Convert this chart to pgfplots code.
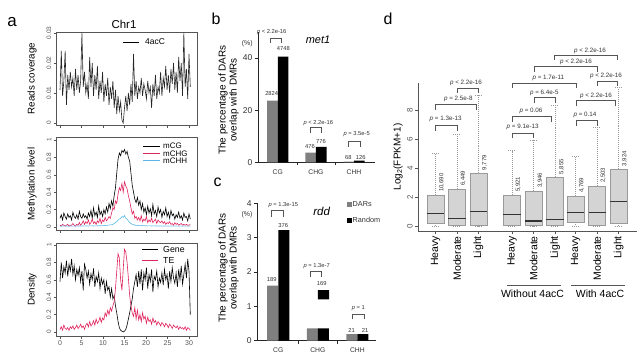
\documentclass[border=0pt]{standalone}
\usepackage{pgfplots}
\pgfplotsset{compat=1.18}
\usepgfplotslibrary{statistics}
\usepackage{pgfplotstable}
\usepackage{fontspec}
\setmainfont{Liberation Sans}
\definecolor{crim}{HTML}{E0245E}
\definecolor{skyb}{HTML}{5BB8E6}
\definecolor{barg}{HTML}{7F7F7F}
\definecolor{boxf}{HTML}{D4D4D4}
\definecolor{boxd}{HTML}{9A9A9A}
\definecolor{axg}{HTML}{555555}
\definecolor{txt}{HTML}{333333}
\newcommand{\fs}[1]{\fontsize{#1}{#1}\selectfont}
\newcommand{\brk}[4]{\draw[axg, line width=0.5pt] (#1bp,-#4bp) |- (#2bp,-#3bp) -- (#2bp,-#4bp);}
\tikzset{t/.style={inner sep=0pt, text=txt}}
\pgfplotsset{/pgf/number format/assume math mode=true}
\pgfplotsset{
astyle/.style={scale only axis, width=141bp, height=93bp, anchor=south west,
 xmin=-0.93, xmax=31.86, axis line style={axg, line width=0.6pt},
 tick align=outside, xtick pos=left, ytick pos=left, major tick length=2.5bp,
 tick style={axg, line width=0.5pt}, xtick={0,5,...,30}, scaled y ticks=false,
 yticklabel style={rotate=90, anchor=south, font=\fs{6.5}, text=axg, inner sep=2pt},
 xticklabel style={font=\fs{7}, text=axg, inner sep=2pt}},
bstyle/.style={scale only axis, anchor=south west, axis lines=left,
 axis line style={-, black!85, line width=0.7pt}, tick align=outside,
 major tick length=3.5bp, minor tick length=3bp, tick style={black!85, line width=0.6pt},
 xtick={0,1,2}, xticklabels={CG,CHG,CHH}, minor xtick={0.5,1.5},
 major x tick style={draw=none},
 xticklabel style={font=\fs{6.8}, text=txt},
 yticklabel style={font=\fs{8.5}, text=txt, inner sep=2pt}, clip=false}
}
\pgfplotstableread{
x cov cg chg chh gene te
0.0 0.011 0.10 0.02 0.010 0.58 0.03
0.3 0.024 0.14 0.01 0.008 0.80 0.06
0.6 0.009 0.08 0.03 0.012 0.62 0.02
0.9 0.014 0.16 0.02 0.010 0.75 0.08
1.2 0.024 0.12 0.01 0.009 0.68 0.04
1.5 0.006 0.09 0.02 0.011 0.82 0.03
1.8 0.016 0.15 0.03 0.010 0.64 0.05
2.1 0.011 0.11 0.01 0.008 0.78 0.02
2.4 0.017 0.13 0.02 0.012 0.70 0.06
2.7 0.012 0.08 0.02 0.010 0.84 0.04
3.0 0.015 0.17 0.04 0.009 0.66 0.07
3.3 0.009 0.12 0.02 0.011 0.76 0.03
3.6 0.018 0.10 0.01 0.010 0.60 0.05
3.9 0.011 0.14 0.03 0.012 0.72 0.08
4.2 0.016 0.09 0.02 0.009 0.65 0.04
4.5 0.010 0.18 0.05 0.011 0.74 0.06
4.8 0.014 0.12 0.02 0.010 0.58 0.09
5.1 0.030 0.10 0.04 0.012 0.70 0.05
5.4 0.012 0.15 0.07 0.010 0.48 0.07
5.7 0.017 0.11 0.03 0.013 0.78 0.03
6.0 0.010 0.13 0.06 0.011 0.72 0.08
6.3 0.013 0.09 0.04 0.012 0.62 0.10
6.6 0.008 0.16 0.08 0.010 0.70 0.06
6.9 0.022 0.12 0.03 0.013 0.55 0.12
7.2 0.012 0.19 0.05 0.012 0.67 0.07
7.5 0.020 0.10 0.09 0.014 0.60 0.09
7.8 0.009 0.22 0.04 0.011 0.73 0.13
8.1 0.016 0.13 0.06 0.013 0.52 0.08
8.4 0.011 0.17 0.03 0.012 0.64 0.15
8.7 0.019 0.11 0.07 0.014 0.58 0.10
9.0 0.008 0.24 0.05 0.013 0.68 0.12
9.3 0.014 0.14 0.10 0.015 0.50 0.17
9.6 0.010 0.18 0.04 0.012 0.62 0.11
9.9 0.017 0.12 0.08 0.016 0.55 0.16
10.2 0.007 0.20 0.06 0.014 0.60 0.14
10.5 0.013 0.15 0.11 0.017 0.44 0.22
10.8 0.009 0.23 0.07 0.018 0.58 0.18
11.1 0.015 0.17 0.09 0.020 0.48 0.25
11.4 0.006 0.27 0.12 0.022 0.52 0.20
11.7 0.012 0.21 0.10 0.024 0.40 0.28
12.0 0.008 0.30 0.16 0.026 0.50 0.24
12.3 0.014 0.24 0.22 0.030 0.38 0.30
12.6 0.005 0.36 0.20 0.040 0.42 0.35
12.9 0.011 0.45 0.30 0.050 0.30 0.50
13.2 0.003 0.62 0.27 0.060 0.22 0.70
13.5 0.009 0.78 0.38 0.080 0.12 0.90
13.8 0.004 0.85 0.45 0.090 0.05 0.85
14.1 0.007 0.82 0.42 0.100 0.02 0.60
14.4 0.001 0.88 0.50 0.120 0.01 0.48
14.7 0.000 0.86 0.40 0.110 0.00 0.72
15.0 0.005 0.89 0.52 0.130 0.01 0.95
15.3 0.009 0.84 0.47 0.100 0.03 0.92
15.6 0.004 0.87 0.44 0.090 0.08 0.80
15.9 0.010 0.80 0.36 0.070 0.15 0.62
16.2 0.006 0.76 0.30 0.050 0.22 0.42
16.5 0.013 0.62 0.22 0.040 0.30 0.30
16.8 0.007 0.48 0.15 0.030 0.38 0.22
17.1 0.023 0.40 0.18 0.030 0.50 0.18
17.4 0.009 0.32 0.10 0.020 0.58 0.28
17.7 0.014 0.28 0.12 0.020 0.66 0.15
18.0 0.008 0.34 0.08 0.018 0.52 0.25
18.3 0.012 0.25 0.11 0.016 0.70 0.14
18.6 0.010 0.30 0.07 0.015 0.55 0.20
18.9 0.015 0.20 0.13 0.017 0.72 0.12
19.2 0.009 0.27 0.06 0.014 0.48 0.22
19.5 0.013 0.17 0.09 0.015 0.68 0.15
19.8 0.011 0.22 0.07 0.013 0.60 0.18
20.1 0.008 0.14 0.12 0.014 0.74 0.10
20.4 0.014 0.24 0.05 0.012 0.50 0.17
20.7 0.010 0.16 0.08 0.013 0.66 0.12
21.0 0.012 0.21 0.06 0.012 0.58 0.14
21.3 0.005 0.13 0.10 0.011 0.72 0.09
21.6 0.013 0.26 0.05 0.013 0.46 0.16
21.9 0.009 0.15 0.07 0.012 0.64 0.11
22.2 0.016 0.19 0.09 0.011 0.60 0.13
22.5 0.008 0.12 0.04 0.012 0.70 0.08
22.8 0.012 0.23 0.08 0.010 0.52 0.12
23.1 0.010 0.16 0.06 0.011 0.62 0.10
23.4 0.017 0.20 0.05 0.012 0.57 0.07
23.7 0.009 0.11 0.07 0.010 0.68 0.11
24.0 0.015 0.18 0.04 0.011 0.54 0.09
24.3 0.012 0.14 0.06 0.010 0.72 0.06
24.6 0.019 0.22 0.03 0.012 0.60 0.10
24.9 0.011 0.12 0.05 0.010 0.66 0.08
25.2 0.016 0.17 0.04 0.011 0.50 0.05
25.5 0.010 0.10 0.06 0.009 0.70 0.09
25.8 0.018 0.19 0.03 0.010 0.58 0.07
26.1 0.013 0.13 0.04 0.011 0.74 0.04
26.4 0.020 0.15 0.02 0.009 0.62 0.08
26.7 0.011 0.09 0.05 0.010 0.56 0.06
27.0 0.017 0.14 0.03 0.011 0.68 0.05
27.3 0.010 0.11 0.04 0.009 0.52 0.07
27.6 0.022 0.17 0.02 0.010 0.72 0.03
27.9 0.014 0.10 0.03 0.011 0.60 0.06
28.2 0.020 0.13 0.04 0.009 0.76 0.04
28.5 0.009 0.08 0.02 0.010 0.55 0.05
28.8 0.030 0.16 0.03 0.011 0.66 0.03
29.1 0.012 0.11 0.02 0.009 0.78 0.06
29.4 0.018 0.12 0.03 0.010 0.62 0.02
29.7 0.008 0.07 0.02 0.009 0.84 0.05
30.0 0.023 0.15 0.02 0.010 0.70 0.04
30.3 0.012 0.09 0.03 0.009 0.20 0.02
}\achr
\begin{document}
\begin{tikzpicture}
\useasboundingbox (0bp,0bp) rectangle (641bp,-363bp);
% ---------------- panel a
\begin{axis}[astyle, at={(56bp,-125bp)}, ymin=-0.00067, ymax=0.0303,
  ytick={0,0.01,0.02,0.03}, yticklabels={0,0.01,0.02,0.03}, xticklabels={}]
\addplot[black!85, line width=0.6pt] table[x=x,y=cov]{\achr};
\end{axis}
\begin{axis}[astyle, at={(56bp,-230bp)}, ymin=-0.035, ymax=1.035,
  ytick={0,0.2,0.4,0.6,0.8,1}, yticklabels={0,0.2,0.4,0.6,0.8,1}, xticklabels={}]
\addplot[black, line width=0.6pt] table[x=x,y=cg]{\achr};
\addplot[crim, line width=0.6pt] table[x=x,y=chg]{\achr};
\addplot[skyb, line width=0.6pt] table[x=x,y=chh]{\achr};
\end{axis}
\begin{axis}[astyle, at={(56bp,-336bp)}, ymin=-0.046, ymax=1.023,
  ytick={0,0.2,0.4,0.6,0.8,1}, yticklabels={0,0.2,0.4,0.6,0.8,1},
  xticklabels={0,5,10,15,20,25,30}]
\addplot[black, line width=0.6pt] table[x=x,y=gene]{\achr};
\addplot[crim, line width=0.6pt] table[x=x,y=te]{\achr};
\end{axis}
\node[t, text=black, font=\fs{17}] at (12bp,-22bp) {a};
\node[t, text=black, font=\fs{11.5}] at (124bp,-24bp) {Chr1};
\node[t, text=black, font=\fs{9.8}, rotate=90] at (32bp,-78.5bp) {Reads coverage};
\node[t, text=black, font=\fs{9.8}, rotate=90] at (32bp,-184bp) {Methylation level};
\node[t, text=black, font=\fs{9.8}, rotate=90] at (32bp,-289.5bp) {Density};
\draw[black, line width=1pt] (123.3bp,-42bp) -- (139.3bp,-42bp);
\node[t, text=black, font=\fs{8.5}, anchor=west] at (145bp,-42bp) {4acC};
\draw[black, line width=1pt] (143.3bp,-146bp) -- (160bp,-146bp);
\draw[crim, line width=1pt] (143.3bp,-153.3bp) -- (160bp,-153.3bp);
\draw[skyb, line width=1pt] (143.3bp,-160.7bp) -- (160bp,-160.7bp);
\node[t, text=black, font=\fs{8}, anchor=west] at (163bp,-146bp) {mCG};
\node[t, text=black, font=\fs{8}, anchor=west] at (163bp,-153.5bp) {mCHG};
\node[t, text=black, font=\fs{8}, anchor=west] at (163bp,-161bp) {mCHH};
\draw[black, line width=1pt] (141.7bp,-249.3bp) -- (158.3bp,-249.3bp);
\draw[crim, line width=1pt] (141.7bp,-260.7bp) -- (158.3bp,-260.7bp);
\node[t, text=black, font=\fs{8.8}, anchor=west] at (163bp,-249.3bp) {Gene};
\node[t, text=black, font=\fs{8.8}, anchor=west] at (163bp,-260.7bp) {TE};
% ---------------- panel b
\begin{axis}[bstyle, at={(258bp,-162.3bp)}, width=117bp, height=130.3bp,
  xmin=-0.52, xmax=2.55, ymin=0, ymax=50, ytick={0,20,40}]
\addplot[ybar, bar width=0.28, bar shift=-0.14, fill=barg, draw=none] coordinates {(0,23.7) (1,3.7) (2,0.25)};
\addplot[ybar, bar width=0.28, bar shift=0.14, fill=black, draw=none] coordinates {(0,40.6) (1,5.9) (2,0.6)};
\end{axis}
\node[t, text=black, font=\fs{16}] at (216bp,-19bp) {b};
\node[t, text=black, font=\fs{10}, rotate=90, align=center] at (228.5bp,-100bp) {The percentage of DARs\\[1pt]overlap with DMRs};
\node[t, font=\fs{7}] at (247.3bp,-43.3bp) {(\%)};
\node[t, text=black, font=\itshape\fs{11}] at (318bp,-40bp) {met1};
\node[t, font=\fs{5.8}] at (271.7bp,-31.7bp) {\textit{p} < 2.2e-16};
\brk{270.7}{281.7}{38.3}{43.3}
\node[t, font=\fs{5.8}] at (283.3bp,-49bp) {4748};
\node[t, font=\fs{5.8}] at (271.7bp,-93.3bp) {2824};
\node[t, font=\fs{5.8}] at (318.3bp,-123.3bp) {\textit{p} < 2.2e-16};
\brk{310}{321.7}{127.7}{133.3}
\node[t, font=\fs{5.8}] at (310bp,-146.7bp) {476};
\node[t, font=\fs{5.8}] at (321bp,-141.7bp) {776};
\node[t, font=\fs{5.8}] at (356.7bp,-134bp) {\textit{p} = 3.5e-5};
\brk{348.3}{360}{141.7}{146.7}
\node[t, font=\fs{5.8}] at (348.3bp,-157.2bp) {68};
\node[t, font=\fs{5.8}] at (360.7bp,-157.2bp) {126};
% ---------------- panel c
\begin{axis}[bstyle, at={(257.3bp,-340.7bp)}, width=118.7bp, height=137.4bp,
  xmin=-0.53, xmax=2.47, ymin=0, ymax=4, ytick={0,1,2,3,4}]
\addplot[ybar, bar width=0.28, bar shift=-0.14, fill=barg, draw=none] coordinates {(0,1.6) (1,0.36) (2,0.19)};
\addplot[ybar, bar width=0.28, bar shift=0.14, fill=black, draw=none] coordinates {(0,3.22) (1,0.36) (2,0.19)};
\addplot[fill=black, draw=none] coordinates {(1.0,1.205) (1.286,1.205) (1.286,1.476) (1.0,1.476) (1.0,1.205)};
\end{axis}
\node[t, text=black, font=\fs{16}] at (217.7bp,-182bp) {c};
\node[t, text=black, font=\fs{10}, rotate=90, align=center] at (228.5bp,-268bp) {The percentage of DARs\\[1pt]overlap with DMRs};
\node[t, font=\fs{7}] at (247bp,-214.5bp) {(\%)};
\node[t, text=black, font=\itshape\fs{11.5}] at (321.7bp,-211.7bp) {rdd};
\fill[barg] (347bp,-202bp) rectangle (352bp,-207bp);
\fill[black] (347bp,-217.5bp) rectangle (352bp,-222.5bp);
\node[t, font=\fs{7.3}, anchor=west] at (352.5bp,-204.5bp) {DARs};
\node[t, font=\fs{7.3}, anchor=west] at (352.5bp,-220bp) {Random};
\node[t, font=\fs{5.8}] at (283.3bp,-205bp) {\textit{p} = 1.3e-15};
\brk{271.7}{283.3}{210.7}{216.7}
\node[t, font=\fs{5.8}] at (283.3bp,-226bp) {376};
\node[t, font=\fs{5.8}] at (271.7bp,-280bp) {189};
\node[t, font=\fs{5.8}] at (316.7bp,-266bp) {\textit{p} = 1.3e-7};
\brk{310}{321}{271.7}{277.3}
\node[t, font=\fs{5.8}] at (321.7bp,-284bp) {169};
\node[t, font=\fs{5.8}] at (358.3bp,-308.3bp) {\textit{p} = 1};
\brk{352.7}{364.3}{314}{319.3}
\node[t, font=\fs{5.8}] at (351.7bp,-330bp) {21};
\node[t, font=\fs{5.8}] at (365bp,-330bp) {21};
% ---------------- panel d
\begin{axis}[scale only axis, anchor=south west, at={(418bp,-231bp)}, width=219bp, height=148bp,
  xmin=0.186, xmax=10.37, ymin=-0.34, ymax=9.86,
  axis lines=left, axis line style={-, axg, line width=0.6pt},
  tick align=outside, major tick length=3bp, tick style={axg, line width=0.5pt},
  ytick={0,2,4,6,8}, yticklabel style={rotate=90, anchor=south, font=\fs{8}, text=axg, inner sep=2pt},
  xtick={1,2,3,4.56,5.56,6.56,7.52,8.52,9.52},
  xticklabels={Heavy,Moderate,Light,Heavy,Moderate,Light,Heavy,Moderate,Light},
  xticklabel style={rotate=90, anchor=east, font=\fs{10.5}, text=black, inner sep=2pt},
  boxplot/draw direction=y,
  boxplot/box extend=0.8, boxplot/whisker extend=0.35,
  boxplot/every box/.style={fill=boxf, draw=boxd, line width=0.7pt},
  boxplot/every median/.style={black!80, line width=1.3pt},
  boxplot/every whisker/.style={boxd, dash pattern=on 1pt off 1pt, line width=0.6pt},
  clip=false]
\addplot[boxplot prepared={draw position=1, lower whisker=0, lower quartile=0.19, median=0.88, upper quartile=2.14, upper whisker=5.0}] coordinates {};
\addplot[boxplot prepared={draw position=2, lower whisker=0, lower quartile=0.02, median=0.53, upper quartile=2.55, upper whisker=6.34}] coordinates {};
\addplot[boxplot prepared={draw position=3, lower whisker=0, lower quartile=0.02, median=0.99, upper quartile=3.63, upper whisker=9.03}] coordinates {};
\addplot[boxplot prepared={draw position=4.56, lower whisker=0, lower quartile=0.07, median=0.81, upper quartile=2.14, upper whisker=5.19}] coordinates {};
\addplot[boxplot prepared={draw position=5.56, lower whisker=0, lower quartile=0.02, median=0.34, upper quartile=2.41, upper whisker=5.93}] coordinates {};
\addplot[boxplot prepared={draw position=6.56, lower whisker=0, lower quartile=0.02, median=0.46, upper quartile=3.36, upper whisker=8.34}] coordinates {};
\addplot[boxplot prepared={draw position=7.52, lower whisker=0, lower quartile=0.26, median=0.92, upper quartile=2.07, upper whisker=4.78}] coordinates {};
\addplot[boxplot prepared={draw position=8.52, lower whisker=0, lower quartile=0.07, median=0.92, upper quartile=2.76, upper whisker=6.8}] coordinates {};
\addplot[boxplot prepared={draw position=9.52, lower whisker=0, lower quartile=0.19, median=1.68, upper quartile=3.91, upper whisker=9.54}] coordinates {};
\end{axis}
\node[t, text=black, font=\fs{16}] at (388bp,-19bp) {d};
\node[t, text=black, font=\fs{10}, rotate=90] at (398bp,-157bp) {Log\textsubscript{2}(FPKM+1)};
% counts
\node[t, font=\fs{6}, rotate=90, anchor=north west] at (439bp,-192bp) {10,690};
\node[t, font=\fs{6}, rotate=90, anchor=north west] at (460.5bp,-186bp) {6,449};
\node[t, font=\fs{6}, rotate=90, anchor=north west] at (482bp,-170.3bp) {9,779};
\node[t, font=\fs{6}, rotate=90, anchor=north west] at (515.5bp,-192bp) {5,921};
\node[t, font=\fs{6}, rotate=90, anchor=north west] at (537.5bp,-188bp) {3,946};
\node[t, font=\fs{6}, rotate=90, anchor=north west] at (559bp,-174.3bp) {5,855};
\node[t, font=\fs{6}, rotate=90, anchor=north west] at (579bp,-193bp) {4,769};
\node[t, font=\fs{6}, rotate=90, anchor=north west] at (600.5bp,-183bp) {2,503};
\node[t, font=\fs{6}, rotate=90, anchor=north west] at (622bp,-166.3bp) {3,924};
% p-values
\node[t, font=\fs{6.3}] at (445.7bp,-119.3bp) {\textit{p} = 1.3e-13};
\brk{435.7}{457.7}{125}{130.7}
\node[t, font=\fs{6.3}] at (458.3bp,-99.3bp) {\textit{p} = 2.5e-8};
\brk{435.7}{476}{104.3}{110}
\node[t, font=\fs{6.3}] at (466bp,-83.3bp) {\textit{p} < 2.2e-16};
\brk{457.7}{478.3}{88.3}{93.3}
\node[t, font=\fs{6.3}] at (522.7bp,-127.3bp) {\textit{p} = 9.1e-13};
\brk{512.3}{533.3}{133.3}{138.3}
\node[t, font=\fs{6.3}] at (531bp,-111bp) {\textit{p} = 0.06};
\brk{512.3}{551.7}{116}{121.7}
\node[t, font=\fs{6.3}] at (544.3bp,-93.3bp) {\textit{p} = 6.4e-5};
\brk{534.3}{555}{97.3}{102.7}
\node[t, font=\fs{6.3}] at (548.3bp,-78.3bp) {\textit{p} = 1.7e-11};
\brk{512.3}{576}{83.3}{88.3}
\node[t, font=\fs{6.3}] at (585bp,-115bp) {\textit{p} = 0.14};
\brk{576}{597.3}{120.7}{126}
\node[t, font=\fs{6.3}] at (596bp,-95.7bp) {\textit{p} < 2.2e-16};
\brk{576}{615}{100.7}{106}
\node[t, font=\fs{6.3}] at (606bp,-76bp) {\textit{p} < 2.2e-16};
\brk{597.3}{617.7}{81}{86}
\node[t, font=\fs{6.3}] at (576bp,-62bp) {\textit{p} < 2.2e-16};
\brk{534.3}{597.3}{66.7}{72}
\node[t, font=\fs{6.3}] at (590bp,-50.7bp) {\textit{p} < 2.2e-16};
\brk{554.3}{617.7}{55}{60}
% group labels
\draw[axg, line width=0.8pt] (507bp,-285bp) -- (561bp,-285bp);
\draw[axg, line width=0.8pt] (571bp,-285bp) -- (625bp,-285bp);
\node[t, text=black, font=\fs{10.5}] at (532.5bp,-294bp) {Without 4acC};
\node[t, text=black, font=\fs{10.5}] at (600bp,-294bp) {With 4acC};
\end{tikzpicture}
\end{document}
